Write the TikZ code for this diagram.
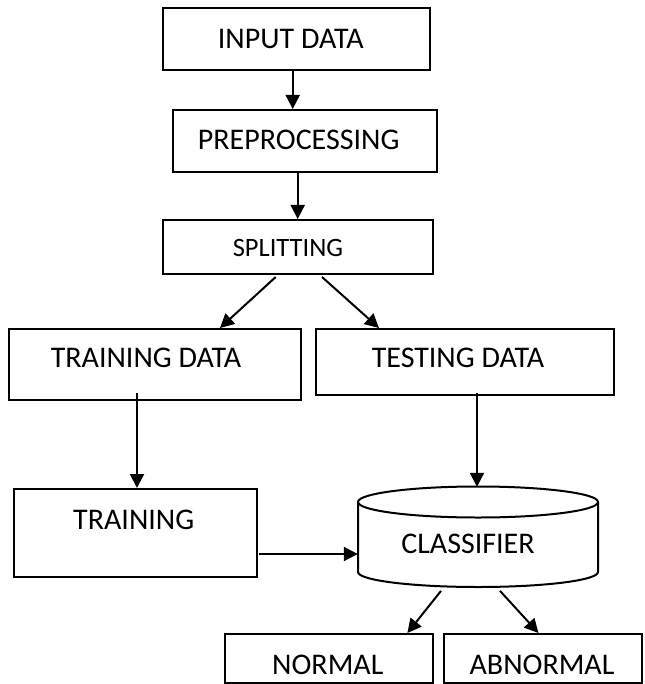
\documentclass[tikz,border=0pt]{standalone}
\usepackage{fontspec}
\setmainfont{Carlito}
\usetikzlibrary{arrows.meta}
\begin{document}
\begin{tikzpicture}[x=1pt,y=-1pt,
  box/.style={draw, line width=2pt, rectangle, inner sep=0pt},
  lbl/.style={inner sep=0pt, font=\fontsize{30}{32}\selectfont},
  slbl/.style={inner sep=0pt, font=\fontsize{26.5}{28}\selectfont},
  arr/.style={line width=2pt, -{Triangle[length=14pt,width=14pt]}}]
\useasboundingbox (0,0) rectangle (644,684);
% boxes
\node[box, minimum width=267pt, minimum height=62pt] (inp) at (296.5,39) {};
\node[box, minimum width=264pt, minimum height=62pt] (pre) at (305,141) {};
\node[box, minimum width=270pt, minimum height=54pt] (spl) at (298,247) {};
\node[box, minimum width=292pt, minimum height=71pt] (trd) at (155,364.5) {};
\node[box, minimum width=298pt, minimum height=66pt] (ted) at (465,362) {};
\node[box, minimum width=243pt, minimum height=88pt] (trn) at (135.5,533) {};
\node[inner sep=0pt, minimum width=240pt, minimum height=100pt] (cls) at (478,537) {};
\node[box, minimum width=207.5pt, minimum height=49pt] (nor) at (329,658.5) {};
\node[box, minimum width=198pt, minimum height=49pt] (abn) at (543,658.5) {};
% cylinder
\draw[line width=2pt] (358,502) -- (358,572) arc[start angle=180, end angle=0, x radius=120, y radius=15] -- (598,502);
\draw[line width=2pt] (478,502) ellipse [x radius=120, y radius=15.5];
% labels
\node[lbl] (inpT) at (290.8,39.3) {INPUT DATA};
\node[lbl] (preT) at (298.7,140) {PREPROCESSING};
\node[slbl] (splT) at (288,248) {SPLITTING};
\node[lbl] (trdT) at (146,358) {TRAINING DATA};
\node[lbl] (tedT) at (458,358) {TESTING DATA};
\node[lbl] (trnT) at (133.7,520) {TRAINING};
\node[lbl] (clsT) at (468,544) {CLASSIFIER};
\node[lbl] (norT) at (327.8,665) {NORMAL};
\node[lbl] (abnT) at (542,665) {ABNORMAL};
% arrows
\draw[arr] ([xshift=-3.8pt]inp.south) -- ([xshift=-12.3pt]pre.north);
\draw[arr] ([xshift=-7.3pt]pre.south) -- ([xshift=-0.3pt]spl.north);
\draw[arr] ([xshift=-22.3pt,yshift=-2pt]spl.south) -- ([xshift=65pt]trd.north);
\draw[arr] ([xshift=24pt,yshift=-2pt]spl.south) -- ([xshift=-86pt]ted.north);
\draw[arr] ([xshift=-18pt,yshift=8pt]trd.south) -- ([xshift=1.5pt]trn.north);
\draw[arr] ([xshift=12pt,yshift=3pt]ted.south) -- ([xshift=-1pt]cls.north);
\draw[arr] ([xshift=1pt,yshift=-21pt]trn.east) -- ([yshift=-17pt]cls.west);
\draw[arr] ([xshift=-37pt,yshift=-3.7pt]cls.south) -- ([xshift=78.4pt]nor.north);
\draw[arr] ([xshift=22pt,yshift=-3.7pt]cls.south) -- ([xshift=-4.5pt]abn.north);
\end{tikzpicture}
\end{document}
